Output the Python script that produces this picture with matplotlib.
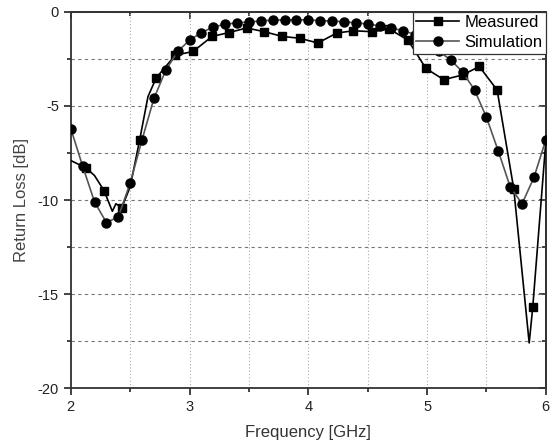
import matplotlib.pyplot as plt
from matplotlib.ticker import MultipleLocator

plt.rcParams['font.family'] = ['Liberation Sans', 'DejaVu Sans']
plt.rcParams['axes.unicode_minus'] = False

# measured curve (black, squares)
meas_f = [2.00, 2.13, 2.20, 2.28, 2.35, 2.38, 2.43, 2.50, 2.58, 2.65, 2.72, 2.88,
          3.03, 3.19, 3.33, 3.48, 3.63, 3.78, 3.93, 4.08, 4.24, 4.38, 4.54, 4.68,
          4.84, 4.99, 5.14, 5.30, 5.44, 5.59, 5.73, 5.86, 5.89, 6.00]
meas_db = [-7.9, -8.3, -8.7, -9.5, -10.6, -10.2, -10.4, -9.3, -6.8, -4.5, -3.5, -2.3,
           -2.1, -1.3, -1.1, -0.85, -1.05, -1.3, -1.4, -1.65, -1.12, -1.0, -1.05, -0.9,
           -1.5, -3.0, -3.6, -3.35, -2.9, -4.15, -9.4, -17.6, -15.7, -6.9]
meas_marks = [1, 3, 6, 8, 10, 11, 12, 13, 14, 15, 16, 17, 18, 19, 20, 21, 22, 23,
              24, 25, 26, 27, 28, 29, 30, 32]

# simulation curve (gray, circles)
sim_f = [2.0, 2.1, 2.2, 2.3, 2.4, 2.5, 2.6, 2.7, 2.8, 2.9, 3.0, 3.1, 3.2, 3.3,
         3.4, 3.5, 3.6, 3.7, 3.8, 3.9, 4.0, 4.1, 4.2, 4.3, 4.4, 4.5, 4.6, 4.7,
         4.8, 4.9, 5.0, 5.1, 5.2, 5.3, 5.4, 5.5, 5.6, 5.7, 5.8, 5.9, 6.0]
sim_db = [-6.2, -8.2, -10.1, -11.2, -10.9, -9.1, -6.8, -4.6, -3.1, -2.1, -1.5, -1.1,
          -0.8, -0.65, -0.58, -0.53, -0.48, -0.43, -0.42, -0.42, -0.42, -0.46, -0.48,
          -0.52, -0.58, -0.64, -0.74, -0.85, -1.0, -1.2, -1.6, -2.1, -2.55, -3.2,
          -4.15, -5.6, -7.4, -9.3, -10.2, -8.8, -6.8]

fig = plt.figure(figsize=(5.53, 4.43), dpi=100)
ax = fig.add_axes([0.128, 0.124, 0.859, 0.849])

ax.plot(meas_f, meas_db, '-s', color='black', lw=1.2, ms=5.5,
        markevery=meas_marks, label='Measured', zorder=3)
ax.plot(sim_f, sim_db, '-o', color='#555555', lw=1.2, ms=6.5,
        mfc='black', mec='black', label='Simulation', zorder=3)

ax.set_xlim(2, 6)
ax.set_ylim(-20, 0)
ax.xaxis.set_major_locator(MultipleLocator(1))
ax.xaxis.set_minor_locator(MultipleLocator(0.5))
ax.yaxis.set_major_locator(MultipleLocator(5))
ax.yaxis.set_minor_locator(MultipleLocator(2.5))

ax.grid(which='both', axis='y', ls=(0, (3, 3)), color='#777777', lw=0.8)
ax.grid(which='both', axis='x', ls=(0, (1, 2)), color='#aaaaaa', lw=0.8)

ax.tick_params(which='both', direction='out', labelsize=10.5, colors='#222222',
               length=5, width=1.2)
ax.tick_params(which='minor', length=3)

# mirrored ticks on top and right, pointing inward
top = ax.secondary_xaxis('top')
top.xaxis.set_major_locator(MultipleLocator(1))
top.xaxis.set_minor_locator(MultipleLocator(0.5))
top.tick_params(which='both', direction='in', labeltop=False, length=5, width=1.2,
                colors='#222222')
top.tick_params(which='minor', length=3)
right = ax.secondary_yaxis('right')
right.yaxis.set_major_locator(MultipleLocator(5))
right.yaxis.set_minor_locator(MultipleLocator(2.5))
right.tick_params(which='both', direction='in', labelright=False, length=5, width=1.2,
                  colors='#222222')
right.tick_params(which='minor', length=3)

for s in list(ax.spines.values()) + [top.spines['top'], right.spines['right']]:
    s.set_linewidth(1.3)
    s.set_color('#333333')

ax.set_xlabel('Frequency [GHz]', fontsize=12, color='#333333', labelpad=8)
ax.set_ylabel('Return Loss [dB]', fontsize=12, color='#444444', labelpad=6)

leg = ax.legend(loc='upper right', fontsize=12, frameon=True, fancybox=False,
                borderaxespad=0, borderpad=0.2, handlelength=2.6,
                handletextpad=0.3, labelspacing=0.3, edgecolor='#333333',
                framealpha=1)
leg.get_frame().set_linewidth(0.9)

fig.savefig('out.png', dpi=100)
